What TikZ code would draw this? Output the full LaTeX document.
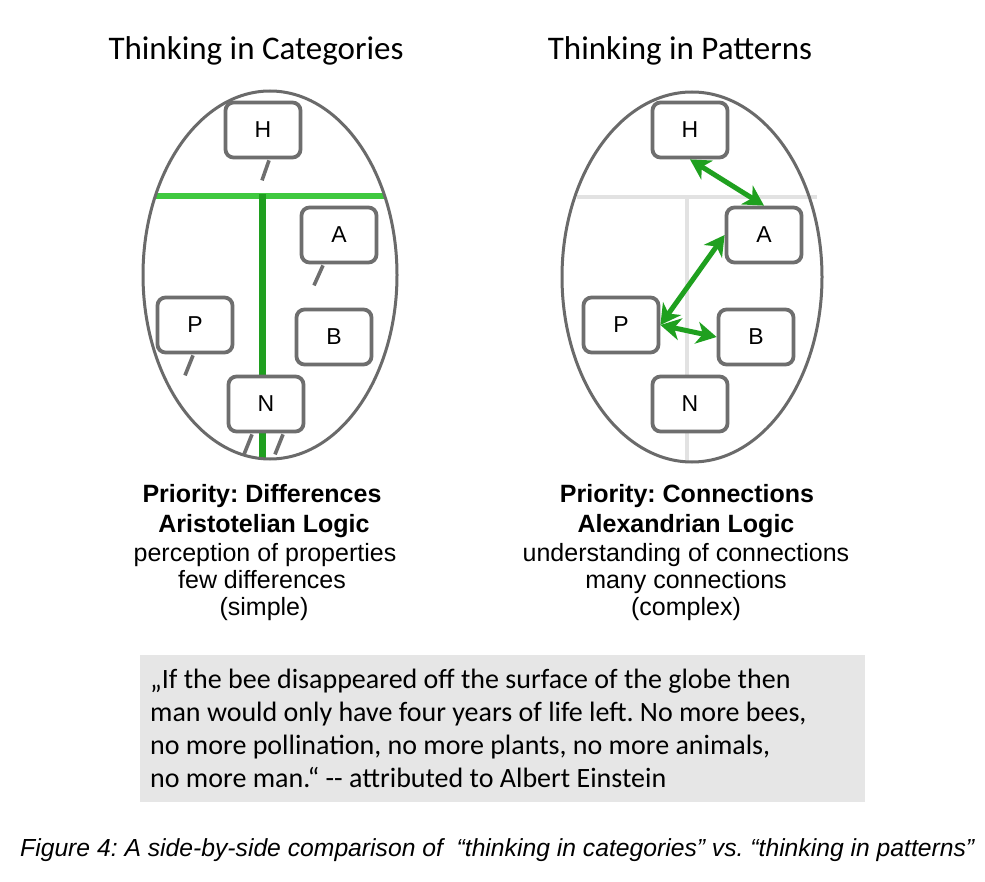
\documentclass[tikz,border=0pt]{standalone}
\usepackage{fontspec}
\setmainfont{Liberation Sans}
\newfontfamily\calfont{Carlito}
\usetikzlibrary{shapes.geometric,arrows.meta,calc}
\definecolor{boxgray}{HTML}{6E6E6E}
\definecolor{ovalgray}{HTML}{6A6A6A}
\definecolor{arrowgreen}{HTML}{1FA01F}
\definecolor{lightgreen}{HTML}{3FC93F}
\definecolor{darkgreen}{HTML}{1F9F1F}
\definecolor{gridgray}{HTML}{E2E2E2}
\definecolor{quotefill}{HTML}{E6E6E6}
\frenchspacing
\begin{document}
\begin{tikzpicture}[x=1pt,y=-1pt,
  letterbox/.style={draw=boxgray, line width=3.8pt, rounded corners=8pt, fill=white,
    minimum width=75pt, minimum height=55pt, inner sep=0pt,
    font=\fontsize{23}{23}\selectfont},
  ovalshape/.style={ellipse, draw=ovalgray, line width=3pt, inner sep=0pt},
  tailline/.style={draw=boxgray, line width=3.6pt},
  gtip/.tip={Stealth[length=20pt,width=22pt,inset=6pt]},
  garrow/.style={draw=arrowgreen, line width=5pt, gtip-gtip},
  titletext/.style={anchor=base, inner sep=0pt, font=\calfont\fontsize{33}{33}\selectfont},
  boldline/.style={anchor=base, inner sep=0pt, font=\bfseries\fontsize{25}{25}\selectfont},
  plainline/.style={anchor=base, inner sep=0pt, font=\fontsize{25}{25}\selectfont},
  quoteline/.style={anchor=base west, inner sep=0pt, font=\calfont\fontsize{28}{28}\selectfont},
  captiontext/.style={anchor=base west, inner sep=0pt, font=\itshape\fontsize{24.7}{24.7}\selectfont}
]
\useasboundingbox (0,0) rectangle (985,882);
\fill[white] (0,0) rectangle (985,882);

% titles
\node[titletext] (t1) at (256,60) {Thinking in Categories};
\node[titletext] (t2) at (680,60) {Thinking in Patterns};

% left: category lines clipped to the oval
\begin{scope}
  \clip (270,275) ellipse [x radius=127, y radius=184];
  \draw[lightgreen, line width=6pt] (130,196) -- (410,196);
  \draw[darkgreen, line width=7pt] (262,194) -- (262,470);
\end{scope}
\node[ovalshape, minimum width=254pt, minimum height=368pt] (lE) at (270,275) {};

% right: faint grid
\begin{scope}
  \clip (692,277) ellipse [x radius=130, y radius=185];
  \draw[gridgray, line width=4pt] (687,197) -- (687,470);
\end{scope}
\draw[gridgray, line width=4pt] (577,197) -- (817,197);
\node[ovalshape, minimum width=260pt, minimum height=370pt] (rE) at (692,277) {};

% left boxes
\node[letterbox] (lH) at (263,130) {H};
\node[letterbox] (lA) at (339,235) {A};
\node[letterbox] (lP) at (195,325) {P};
\node[letterbox] (lB) at (334,337) {B};
\node[letterbox] (lN) at (266,404) {N};

% tails
\draw[tailline] ($(lH.south)+(6,1)$) -- ++(-7,20);
\draw[tailline] ($(lA.south)+(-16,1)$) -- ++(-9,20);
\draw[tailline] ($(lP.south)+(-2,1)$) -- ++(-8,20);
\draw[tailline] ($(lN.south)+(-14,1)$) -- ++(-8,20);
\draw[tailline] ($(lN.south)+(17,1)$) -- ++(-8,20);

% right boxes
\node[letterbox] (rH) at (690,130) {H};
\node[letterbox] (rA) at (764,235) {A};
\node[letterbox] (rP) at (621,325) {P};
\node[letterbox] (rB) at (756,337) {B};
\node[letterbox] (rN) at (690,404) {N};

% connections
\draw[garrow] (rH.south) -- (rA.north);
\draw[garrow] (rA.west) -- (rP.east);
\draw[garrow] (rP.east) -- (rB.west);

% left text
\node[boldline]  (l1) at (262,502) {Priority: Differences};
\node[boldline]  (l2) at (264,532) {Aristotelian Logic};
\node[plainline] (l3) at (265,561) {perception of properties};
\node[plainline] (l4) at (262,588) {few differences};
\node[plainline] (l5) at (264,615) {(simple)};

% right text
\node[boldline]  (r1) at (687,502) {Priority: Connections};
\node[boldline]  (r2) at (686,532) {Alexandrian Logic};
\node[plainline] (r3) at (686,561) {understanding of connections};
\node[plainline] (r4) at (686,588) {many connections};
\node[plainline] (r5) at (686,615) {(complex)};

% quote box
\fill[quotefill] (140,655) rectangle (865,802);
\node[quoteline] (q1) at (150,688) {„If the bee disappeared off the surface of the globe then};
\node[quoteline] (q2) at (150,721) {man would only have four years of life left. No more bees,};
\node[quoteline] (q3) at (150,754) {no more pollination, no more plants, no more animals,};
\node[quoteline] (q4) at (150,787) {no more man.“ -{}- attributed to Albert Einstein};

% caption
\node[captiontext] (cap) at (20,856) {Figure 4: A side-by-side comparison of \ “thinking in categories” vs. “thinking in patterns”};
\end{tikzpicture}
\end{document}
